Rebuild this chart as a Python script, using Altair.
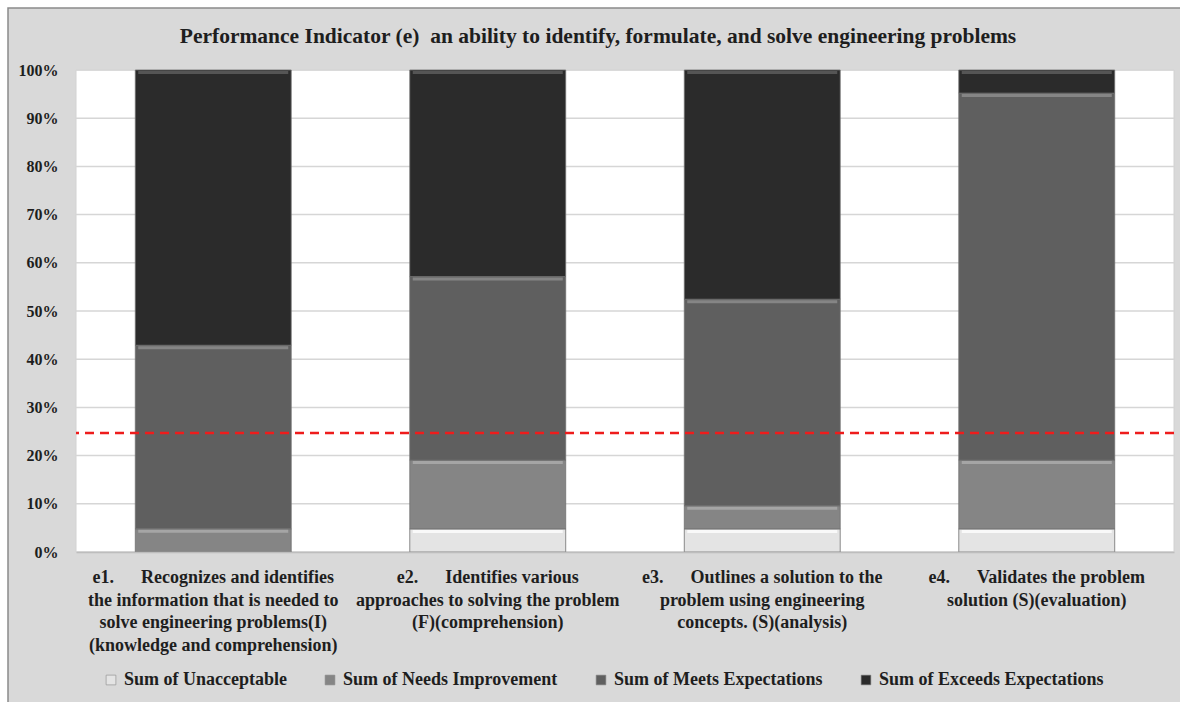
import altair as alt
import pandas as pd

# ---- data -------------------------------------------------------------
chart_title = "Performance Indicator (e)\u00a0 an ability to identify, formulate, and solve engineering problems"
item_labels = [
    "e1.\u2003\u2002Recognizes and identifies|the information that is needed to|solve engineering problems(I)|(knowledge and comprehension)",
    "e2.\u2003\u2002Identifies various|approaches to solving the problem|(F)(comprehension)",
    "e3.\u2003\u2002Outlines a solution to the|problem using engineering|concepts. (S)(analysis)",
    "e4.\u2003\u2002Validates the problem|solution (S)(evaluation)",
]
levels = [
    "Sum of Unacceptable",
    "Sum of Needs Improvement",
    "Sum of Meets Expectations",
    "Sum of Exceeds Expectations",
]
# percent of students per rating level
unacceptable = [0.0, 4.8, 4.8, 4.8]
needs_improvement = [4.8, 14.3, 4.8, 14.3]
meets_expectations = [38.1, 38.1, 42.9, 76.2]
exceeds_expectations = [57.1, 42.9, 47.6, 4.8]
target_share = 0.247
y_ticks = [0.0, 0.1, 0.2, 0.3, 0.4, 0.5, 0.6, 0.7, 0.8, 0.9, 1.0]

series = [unacceptable, needs_improvement, meets_expectations, exceeds_expectations]
rows = []
for lvl_idx, (lvl, vals) in enumerate(zip(levels, series)):
    for item, v in zip(item_labels, vals):
        rows.append({"item": item, "level": lvl, "order": lvl_idx, "value": v})
df = pd.DataFrame(rows)

# ---- styling ----------------------------------------------------------
FONT = "Liberation Serif"
TEXT = "#1e1e1e"
fills = ["#e4e4e4", "#858585", "#5f5f5f", "#2b2b2b"]
bevels = ["#fbfbfb", "#a9a9a9", "#8a8a8a", "#5a5a5a"]
W, H = 1098, 482

x_enc = alt.X(
    "item:N",
    sort=item_labels,
    scale=alt.Scale(paddingInner=0.432, paddingOuter=0.216),
    axis=alt.Axis(
        title=None,
        labelAngle=0,
        labelExpr="split(datum.label, '|')",
        labelFont=FONT,
        labelFontSize=18,
        labelFontWeight="bold",
        labelColor=TEXT,
        labelLineHeight=22.7,
        labelPadding=16.5,
        labelLimit=400,
        ticks=False,
        domainColor="#bdbdbd",
        domainWidth=1.5,
        zindex=1,
    ),
)

y_scale = alt.Scale(domain=[0, 1], nice=False, zero=True)

# panel background with its frame
frame = alt.Chart(pd.DataFrame({"k": [0]})).mark_rect(
    fill="#d9d9d9", stroke="#8a8a8a", strokeWidth=1.5
).encode(
    x=alt.value(-68), x2=alt.value(W + 40), y=alt.value(-62), y2=alt.value(H + 180)
)

# white plotting area
plot_bg = alt.Chart(pd.DataFrame({"k": [0]})).mark_rect(
    fill="white", stroke="#d2d2d2", strokeWidth=1
).encode(x=alt.value(0), x2=alt.value(W), y=alt.value(0), y2=alt.value(H))

heading = alt.Chart(pd.DataFrame({"t": [chart_title]})).mark_text(
    font=FONT, fontSize=21.5, fontWeight="bold", color=TEXT,
    align="center", baseline="middle",
).encode(text="t:N", x=alt.value(W / 2 - 27), y=alt.value(-33))

grid = alt.Chart(pd.DataFrame({"t": y_ticks})).mark_rule(
    color="#d6d6d6", strokeWidth=1.5
).encode(y=alt.Y("t:Q", scale=y_scale))

bars = alt.Chart(df).mark_bar(stroke="#6e6e6e", strokeWidth=0.8).encode(
    x=x_enc,
    y=alt.Y(
        "value:Q",
        stack="normalize",
        scale=y_scale,
        axis=alt.Axis(
            title=None,
            values=y_ticks,
            format=".0%",
            labelFont=FONT,
            labelFontSize=16,
            labelFontWeight="bold",
            labelColor=TEXT,
            labelPadding=18,
            ticks=False,
            domain=False,
            grid=False,
            zindex=1,
        ),
    ),
    color=alt.Color(
        "level:N",
        sort=levels,
        scale=alt.Scale(domain=levels, range=fills),
        legend=alt.Legend(
            title=None,
            orient="none",
            direction="horizontal",
            legendX=26,
            legendY=601,
            symbolType="square",
            symbolSize=95,
            symbolStrokeColor="#8a8a8a",
            symbolStrokeWidth=0.6,
            labelFont=FONT,
            labelFontSize=18,
            labelFontWeight="bold",
            labelColor=TEXT,
            labelOffset=4,
            labelLimit=400,
            columnPadding=34,
        ),
    ),
    order=alt.Order("order:Q", sort="ascending"),
)

# light bevel along the top edge of each segment
bevel = (
    alt.Chart(df)
    .transform_filter("datum.value > 0")
    .transform_stack(
        stack="value",
        groupby=["item"],
        sort=[alt.SortField("order", order="ascending")],
        as_=["y0", "y1"],
        offset="normalize",
    )
    .mark_tick(thickness=3, size=150, yOffset=2.5, opacity=0.9)
    .encode(
        x=alt.X("item:N", sort=item_labels),
        y=alt.Y("y1:Q", scale=y_scale),
        color=alt.Color(
            "level:N", scale=alt.Scale(domain=levels, range=bevels), legend=None
        ),
    )
)

target = alt.Chart(pd.DataFrame({"t": [target_share]})).mark_rule(
    color="#ee1c1c", strokeWidth=2.5, strokeDash=[9, 6]
).encode(y=alt.Y("t:Q", scale=y_scale))

chart = (
    alt.layer(frame, plot_bg, heading, grid, bars, bevel, target)
    .resolve_scale(color="independent")
    .properties(
        width=W,
        height=H,
        background="white",
        autosize=alt.AutoSizeParams(type="none"),
        padding={"left": 76, "top": 70, "right": 6, "bottom": 150},
    )
    .configure_view(strokeWidth=0)
)

chart.save("out.html", embed_options={"renderer": "svg", "actions": False})
